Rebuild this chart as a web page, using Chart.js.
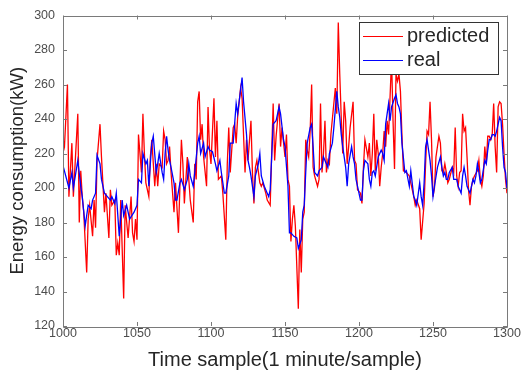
<!DOCTYPE html>
<html>
<head>
<meta charset="utf-8">
<script src="https://cdn.jsdelivr.net/npm/chart.js@4.4.1/dist/chart.umd.min.js"></script>
<style>
  body { margin: 0; background: #fff; }
  canvas { display: block; }
</style>
</head>
<body>
<canvas id="energyChart" width="522" height="375"></canvas>
<script>
// time samples and predicted values (red)
const predX = [1000,1001,1003,1004,1006,1007,1010,1011,1012,1013,1014,1016,1017,1018,1020,1021,1022,1023,1025,1026,
  1028,1029,1031,1032,1033,1035,1036,1037,1038,1039,1041,1042,1044,1046,1047,1048,1049,1050,1051,1053,1054,
  1055,1056,1058,1059,1060,1062,1063,1064,1065,1067,1068,1069,1070,1071,1072,1073,1075,1076,1078,1079,
  1080,1081,1082,1084,1085,1086,1088,1089,1090,1091,1092,1093,1094,1095,1097,1098,1099,1100,1102,1103,
  1104,1105,1107,1108,1110,1111,1112,1113,1115,1116,1117,1118,1120,1121,1123,1124,1125,1127,1128,1129,
  1130,1131,1133,1134,1135,1137,1138,1140,1141,1142,1143,1144,1146,1147,1148,1150,1151,1152,1153,1154,
  1155,1156,1157,1159,1160,1161,1162,1163,1164,1165,1166,1167,1168,1169,1170,1172,1173,1174,1175,1176,
  1177,1178,1179,1180,1181,1183,1184,1185,1186,1187,1188,1189,1190,1191,1192,1193,1194,1196,1197,1198,
  1199,1201,1202,1203,1204,1206,1207,1208,1209,1210,1211,1212,1213,1214,1215,1216,1217,1218,1219,1220,
  1222,1223,1224,1225,1226,1227,1228,1229,1230,1232,1234,1235,1237,1238,1239,1241,1242,1244,1245,1246,
  1247,1248,1249,1250,1251,1252,1254,1255,1256,1257,1258,1259,1260,1261,1263,1264,1265,1266,1267,1268,
  1269,1270,1271,1272,1273,1274,1275,1276,1277,1278,1280,1281,1282,1283,1284,1285,1286,1287,1288,1289,
  1290,1291,1292,1293,1294,1295,1296,1297,1298,1299,1300];
const predY = [228,224,260,195,226,195,243,180,210,195,186,151,182,190,172,193,177,216,237,218,
  186,197,171,199,190,193,161,168,161,193,136,190,171,195,174,169,182,170,231,209,243,
  220,203,195,218,228,201,214,201,214,212,233,228,214,216,224,209,186,203,174,201,
  228,214,191,218,205,193,180,214,205,250,256,228,237,218,201,247,222,214,252,218,
  239,205,207,197,170,214,235,209,235,237,226,241,258,252,209,228,216,239,209,191,
  212,216,203,201,203,197,193,190,220,249,216,230,249,224,235,218,231,205,201,169,
  182,190,178,130,176,151,182,186,228,222,218,233,260,212,207,201,205,249,209,220,
  239,209,216,214,231,249,258,243,296,266,241,220,250,239,214,224,235,250,216,214,
  199,197,191,212,228,218,226,207,220,243,210,228,220,201,212,220,233,224,239,231,
  275,239,211,266,262,266,256,231,210,209,207,203,195,190,193,188,170,191,214,233,
  231,250,228,195,200,218,230,226,210,209,214,209,203,205,212,209,235,207,201,209,
  210,243,233,235,218,199,190,201,205,207,210,216,205,201,207,224,214,230,230,228,
  231,249,224,209,247,250,249,237,220,205,197];

// time samples and real values (blue)
const realX = [1000,1004,1006,1007,1010,1012,1013,1015,1017,1019,1020,1022,1023,1025,1026,1028,1030,1032,1033,1035,
  1036,1038,1040,1041,1043,1045,1048,1050,1051,1053,1054,1056,1057,1058,1059,1060,1061,1063,1064,1065,
  1067,1068,1069,1070,1071,1072,1073,1075,1076,1077,1079,1080,1082,1084,1085,1086,1088,1089,1091,1092,
  1093,1095,1096,1098,1099,1101,1103,1104,1106,1107,1109,1110,1112,1113,1115,1117,1118,1119,1121,1122,
  1124,1125,1126,1127,1129,1130,1132,1133,1134,1136,1138,1139,1140,1141,1142,1144,1146,1147,1149,1150,
  1152,1153,1154,1156,1158,1159,1161,1162,1163,1164,1165,1167,1168,1169,1170,1172,1173,1175,1176,1177,
  1179,1180,1182,1183,1185,1186,1187,1188,1189,1191,1192,1193,1195,1196,1197,1198,1201,1202,1203,1204,
  1206,1207,1208,1209,1210,1211,1213,1215,1216,1217,1218,1219,1220,1221,1222,1224,1225,1226,1227,1228,
  1229,1231,1232,1234,1235,1237,1238,1239,1241,1242,1243,1244,1245,1246,1247,1248,1249,1250,1251,1253,
  1255,1256,1257,1258,1259,1260,1261,1263,1264,1265,1266,1267,1269,1270,1271,1272,1273,1275,1276,1277,
  1278,1279,1280,1281,1282,1283,1285,1286,1287,1288,1289,1290,1291,1292,1293,1295,1296,1297,1298,1299,
  1300];
const realY = [213,200,209,200,216,201,195,178,190,188,193,197,219,214,205,197,195,193,195,191,
  197,172,193,184,190,182,186,190,205,203,220,214,216,201,214,226,230,209,214,220,
  209,205,220,230,222,216,212,203,193,193,203,205,199,205,214,207,201,209,226,230,
  220,226,218,224,222,221,214,210,216,209,197,197,207,226,226,249,243,250,264,250,
  231,216,212,207,195,207,214,220,207,201,197,195,199,218,237,239,247,243,228,224,
  201,174,174,172,171,165,170,186,190,209,226,235,237,224,209,207,210,212,218,216,
  212,220,226,235,256,247,241,231,224,212,201,214,224,218,214,205,193,193,210,216,
  214,205,201,209,210,207,218,222,220,216,237,243,249,239,247,252,254,249,247,243,
  226,209,210,201,210,195,193,190,203,195,190,203,224,228,222,216,207,195,201,212,
  218,212,207,209,205,205,209,212,205,205,205,201,197,207,212,207,201,197,201,205,
  203,207,214,209,203,205,216,214,222,228,228,231,231,230,233,241,239,224,212,209,
  200];

const xTicks = [1000, 1050, 1100, 1150, 1200, 1250, 1300];
const yTicks = [120, 140, 160, 180, 200, 220, 240, 260, 280, 300];
const seriesNames = ['predicted', 'real'];
const seriesColors = ['#ff0000', '#0000ff'];

function toPoints(xs, ys) {
  return xs.map((x, i) => ({ x: x, y: ys[i] }));
}

// matlab style box with inward ticks + legend inside the axes
const matlabBox = {
  id: 'matlabBox',
  afterDraw(chart) {
    const ctx = chart.ctx;
    const area = chart.chartArea;
    const xs = chart.scales.x;
    const ys = chart.scales.y;
    ctx.save();
    ctx.strokeStyle = '#7a7a7a';
    ctx.lineWidth = 1;
    ctx.beginPath();
    ctx.rect(Math.round(area.left) + 0.5, Math.round(area.top) + 0.5,
      Math.round(area.right - area.left), Math.round(area.bottom - area.top));
    ctx.stroke();
    const tl = 4;
    ctx.beginPath();
    xTicks.forEach(v => {
      const px = Math.round(xs.getPixelForValue(v)) + 0.5;
      ctx.moveTo(px, area.bottom); ctx.lineTo(px, area.bottom - tl);
      ctx.moveTo(px, area.top); ctx.lineTo(px, area.top + tl);
    });
    yTicks.forEach(v => {
      const py = Math.round(ys.getPixelForValue(v)) + 0.5;
      ctx.moveTo(area.left, py); ctx.lineTo(area.left + tl, py);
      ctx.moveTo(area.right, py); ctx.lineTo(area.right - tl, py);
    });
    ctx.stroke();

    // legend
    const lx = 359, ly = 22, lw = 139, lh = 52;
    ctx.fillStyle = '#fff';
    ctx.fillRect(lx, ly, lw, lh);
    ctx.strokeStyle = '#333';
    ctx.strokeRect(lx + 0.5, ly + 0.5, lw, lh);
    ctx.font = '20px "Liberation Sans", Arial, sans-serif';
    ctx.textBaseline = 'middle';
    seriesNames.forEach((name, i) => {
      const y = ly + 14 + i * 24;
      ctx.strokeStyle = seriesColors[i];
      ctx.lineWidth = 1;
      ctx.beginPath();
      ctx.moveTo(lx + 4, y + 0.5);
      ctx.lineTo(lx + 44, y + 0.5);
      ctx.stroke();
      ctx.fillStyle = '#262626';
      ctx.fillText(name, lx + 48, y);
    });
    ctx.restore();
  }
};

const ctx = document.getElementById('energyChart').getContext('2d');
new Chart(ctx, {
  type: 'line',
  data: {
    datasets: [
      {
        label: seriesNames[0],
        data: toPoints(predX, predY),
        borderColor: seriesColors[0],
        borderWidth: 1.3,
        pointRadius: 0,
        tension: 0,
        order: 2
      },
      {
        label: seriesNames[1],
        data: toPoints(realX, realY),
        borderColor: seriesColors[1],
        borderWidth: 1.3,
        pointRadius: 0,
        tension: 0,
        order: 1
      }
    ]
  },
  options: {
    responsive: false,
    animation: false,
    layout: { padding: { left: 0, right: 15, top: 13, bottom: 0 } },
    plugins: {
      legend: { display: false },
      tooltip: { enabled: false }
    },
    scales: {
      x: {
        type: 'linear',
        min: 1000,
        max: 1300,
        afterFit: (scale) => { scale.height = 49; },
        afterBuildTicks: (scale) => { scale.ticks = xTicks.map(v => ({ value: v })); },
        grid: { display: false, drawTicks: false },
        border: { display: false },
        ticks: {
          padding: 0,
          maxRotation: 0,
          color: '#4d4d4d',
          callback: (v) => String(v),
          font: { family: '"Liberation Sans", Arial, sans-serif', size: 12.5 }
        },
        title: {
          display: true,
          text: 'Time sample(1 minute/sample)',
          color: '#262626',
          padding: { top: 0, bottom: 3 },
          font: { family: '"Liberation Sans", Arial, sans-serif', size: 20 }
        }
      },
      y: {
        min: 120,
        max: 300,
        afterFit: (scale) => { scale.width = 63; },
        afterBuildTicks: (scale) => { scale.ticks = yTicks.map(v => ({ value: v })); },
        grid: { display: false, drawTicks: false },
        border: { display: false },
        ticks: {
          padding: 8,
          color: '#4d4d4d',
          callback: (v) => String(v),
          font: { family: '"Liberation Sans", Arial, sans-serif', size: 12.5 }
        },
        title: {
          display: true,
          text: 'Energy consumption(kW)',
          color: '#262626',
          padding: { top: 7, bottom: 0 },
          font: { family: '"Liberation Sans", Arial, sans-serif', size: 18.5 }
        }
      }
    }
  },
  plugins: [matlabBox]
});
</script>
</body>
</html>
